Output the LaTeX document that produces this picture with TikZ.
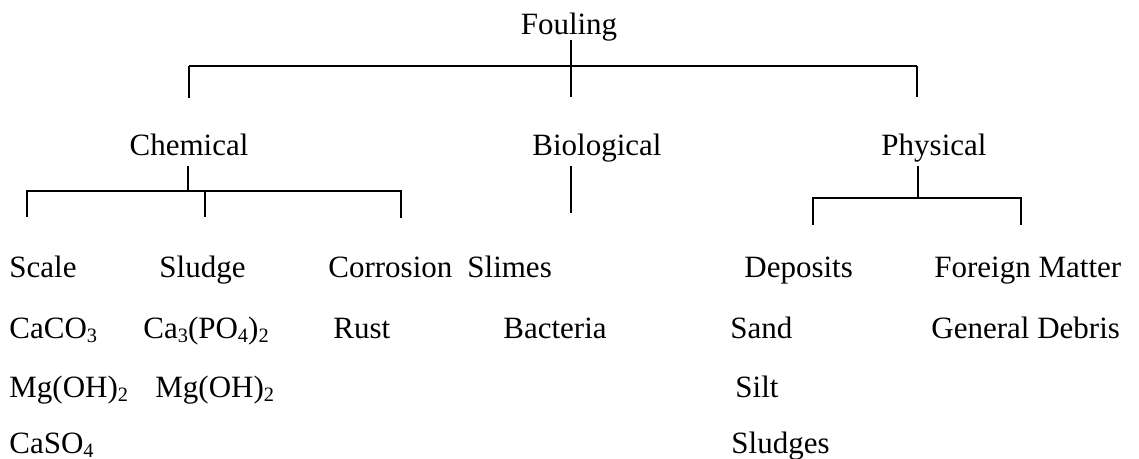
\documentclass[tikz,border=0pt]{standalone}
\usepackage{fontspec}
\setmainfont{Liberation Serif}
% lowered, smaller figures for chemical formulae
\newcommand\chsub[1]{\raisebox{-0.3ex}{\fontsize{10.2}{12}\selectfont #1}}
\begin{document}
\begin{tikzpicture}[x=0.5pt,y=-0.5pt,
  txt/.style={inner sep=0pt, font=\fontsize{15.5}{18}\selectfont},
  item/.style={txt, anchor=base west},
  head/.style={txt, anchor=base},
  link/.style={line width=0.85pt},
  mainlink/.style={line width=1.1pt}]
\useasboundingbox (0,0) rectangle (1139,459);

% ---- category headings
\node[head] (fouling) at (569,35)  {Fouling};
\node[head] (chem)    at (189,156) {Chemical};
\node[head] (bio)     at (597,156) {Biological};
\node[head] (phys)    at (934,156) {Physical};

% ---- chemical fouling
\node[item] (scale)  at (9,278)   {Scale};
\node[item] (caco)   at (9,338)   {CaCO\chsub{3}};
\node[item] (mgoha)  at (9,397)   {Mg(OH)\chsub{2}};
\node[item] (caso)   at (9,453)   {CaSO\chsub{4}};
\node[item] (sludge) at (159,278) {Sludge};
\node[item] (capo)   at (143,338) {Ca\chsub{3}(PO\chsub{4})\chsub{2}};
\node[item] (mgohb)  at (155,397) {Mg(OH)\chsub{2}};
\node[item] (corr)   at (328,278) {Corrosion};
\node[item] (rust)   at (333,338) {Rust};

% ---- biological fouling
\node[item] (slimes) at (467,278) {Slimes};
\node[item] (bact)   at (503,338) {Bacteria};

% ---- physical fouling
\node[item] (depo)    at (744,278) {Deposits};
\node[item] (sand)    at (730,338) {Sand};
\node[item] (silt)    at (735,397) {Silt};
\node[item] (sludges) at (731,453) {Sludges};
\node[item] (foreign) at (934,278) {Foreign Matter};
\node[item] (debris)  at (931,338) {General Debris};

% ---- tree junctions
\coordinate (f-top)  at (571,40);
\coordinate (f-bot)  at (571,97);
\coordinate (f-l)    at (189,66);
\coordinate (f-lend) at (189,98);
\coordinate (f-r)    at (917,66);
\coordinate (f-rend) at (917,97);

\coordinate (c-top)  at (188,166);
\coordinate (c-mid)  at (188,191);
\coordinate (c-l)    at (27,191);
\coordinate (c-lend) at (27,217);
\coordinate (c-m)    at (205,191);
\coordinate (c-mend) at (205,217);
\coordinate (c-r)    at (401,191);
\coordinate (c-rend) at (401,218);

\coordinate (b-top)  at (571,166);
\coordinate (b-bot)  at (571,213);

\coordinate (p-top)  at (918,166);
\coordinate (p-mid)  at (918,198);
\coordinate (p-l)    at (813,198);
\coordinate (p-lend) at (813,225);
\coordinate (p-r)    at (1021,198);
\coordinate (p-rend) at (1021,225);

% ---- connectors
\draw[link] (f-top) -- (f-bot);
\draw[mainlink] (f-l) -- (f-r);
\draw[link] (f-l) -- (f-lend);
\draw[link] (f-r) -- (f-rend);

\draw[link] (c-top) -- (c-mid);
\draw[link] (c-lend) -- (c-l) -- (c-r) -- (c-rend);
\draw[link] (c-m) -- (c-mend);

\draw[link] (b-top) -- (b-bot);

\draw[link] (p-top) -- (p-mid);
\draw[link] (p-lend) -- (p-l) -- (p-r) -- (p-rend);
\end{tikzpicture}
\end{document}
